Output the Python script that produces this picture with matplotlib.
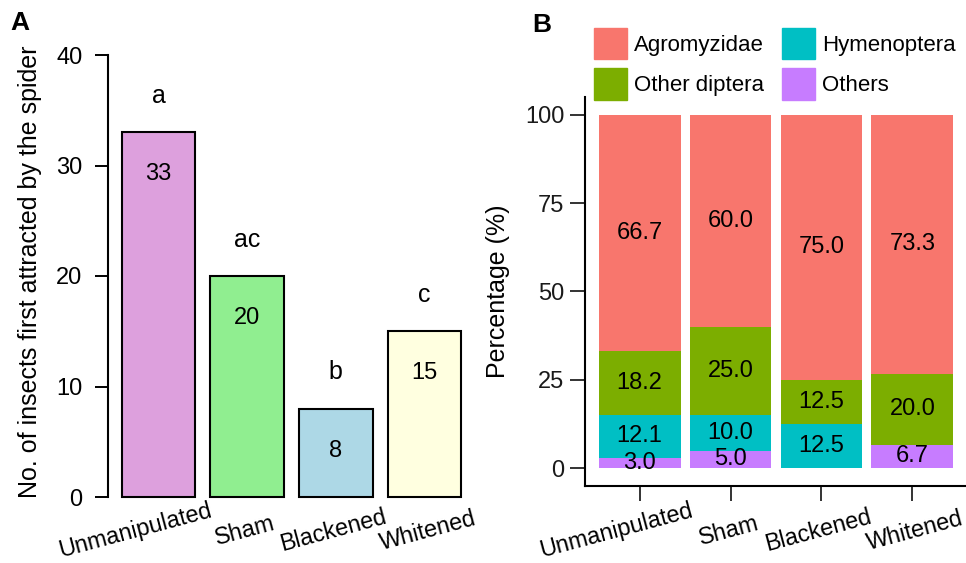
import matplotlib
matplotlib.use("Agg")
import matplotlib.pyplot as plt
import matplotlib.transforms as mtransforms
from matplotlib.patches import Patch
import numpy as np

plt.rcParams['font.family'] = ['Liberation Sans', 'DejaVu Sans']

treatments = ["Unmanipulated", "Sham", "Blackened", "Whitened"]

# Panel A: number of insects first attracted
insect_counts = [33, 20, 8, 15]
sig_letters = ["a", "ac", "b", "c"]

# Panel B: composition (%), stacked from the bottom up
others = [3.0, 5.0, 0.0, 6.7]
hymenoptera = [12.1, 10.0, 12.5, 0.0]
other_diptera = [18.2, 25.0, 12.5, 20.0]
agromyzidae = [66.7, 60.0, 75.0, 73.3]

W, H = 966, 563
fig = plt.figure(figsize=(W / 100, H / 100), dpi=100)

# horizontal nudge (pixels) of the slanted group labels, as in the original
label_nudge = [-23, -2, -3, 3]


def px_axes(left, top, right, bottom):
    return fig.add_axes([left / W, 1 - bottom / H, (right - left) / W, (bottom - top) / H])


def slanted_labels(ax, xs):
    for x, name, dx in zip(xs, treatments, label_nudge):
        tr = mtransforms.blended_transform_factory(ax.transData, fig.transFigure)
        tr = tr + mtransforms.ScaledTranslation(dx / 100, 0, fig.dpi_scale_trans)
        ax.text(x, 1 - 531 / H, name, rotation=15, ha="center", va="center",
                fontsize=16.8, transform=tr, clip_on=False)


# ---------------- panel A ----------------
axA = px_axes(108, 55, 475, 497)
xa = 0.7 + 1.2 * np.arange(len(treatments))
colors_a = ["plum", "lightgreen", "lightblue", "lightyellow"]
axA.bar(xa, insect_counts, width=1, color=colors_a, edgecolor="black", linewidth=1.5, clip_on=False)
axA.set_xlim(0.016, 4.984)
axA.set_ylim(0, 40)
for s in ["top", "right", "bottom"]:
    axA.spines[s].set_visible(False)
axA.spines["left"].set_linewidth(1.5)
axA.set_yticks([0, 10, 20, 30, 40])
axA.tick_params(axis="y", length=9.4, width=1.4, pad=9, labelsize=17)
axA.set_xticks([])

for x, v, lt in zip(xa, insect_counts, sig_letters):
    axA.text(x, v + 3.3, lt, ha="center", va="center", fontsize=18)
    axA.text(x, v - 3.8, str(v), ha="center", va="center", fontsize=17)

slanted_labels(axA, xa)

fig.text(30 / W, 1 - 272 / H, "No. of insects first attracted by the spider",
         rotation=90, ha="center", va="center", fontsize=18)
fig.text(10 / W, 1 - 11 / H, "A", fontweight="bold", fontsize=19, ha="left", va="top")

# ---------------- panel B ----------------
axB = px_axes(585, 97, 967, 486)
xb = np.arange(1, len(treatments) + 1)
series = [("Others", others, "#C77CFF"),
          ("Hymenoptera", hymenoptera, "#00BFC4"),
          ("Other diptera", other_diptera, "#7CAE00"),
          ("Agromyzidae", agromyzidae, "#F8766D")]
bottom = np.zeros(len(treatments))
for name, vals, col in series:
    vals = np.array(vals)
    axB.bar(xb, vals, width=0.9, bottom=bottom, color=col, linewidth=0)
    for x, b, v in zip(xb, bottom, vals):
        if v > 0:
            axB.text(x, b + v / 2, "%.1f" % v, ha="center", va="center", fontsize=17)
    bottom = bottom + vals

axB.set_xlim(0.4, 4.6)
axB.set_ylim(-5, 105)
for s in ["top", "right"]:
    axB.spines[s].set_visible(False)
for s in ["left", "bottom"]:
    axB.spines[s].set_linewidth(1.5)
axB.set_yticks([0, 25, 50, 75, 100])
axB.set_xticks(xb)
axB.set_xticklabels([])
axB.tick_params(axis="both", length=10.8, width=1.4, color="#333333", labelsize=17,
                labelcolor="#1a1a1a")
axB.tick_params(axis="y", pad=4)

slanted_labels(axB, xb)

fig.text(498 / W, 1 - 291 / H, "Percentage (%)", rotation=90, ha="center", va="center", fontsize=18)
fig.text(532 / W, 1 - 13 / H, "B", fontweight="bold", fontsize=19, ha="left", va="top")

handles = [Patch(color="#F8766D", label="Agromyzidae"),
           Patch(color="#7CAE00", label="Other diptera"),
           Patch(color="#00BFC4", label="Hymenoptera"),
           Patch(color="#C77CFF", label="Others")]
fig.legend(handles=handles, ncol=2, loc="upper left", bbox_to_anchor=(594 / W, 1 - 28 / H),
           frameon=False, borderpad=0, borderaxespad=0, handlelength=1.5, handleheight=1.8,
           handletextpad=0.3, columnspacing=0.8, labelspacing=0.4, fontsize=16)

fig.savefig("out.png", dpi=100)
